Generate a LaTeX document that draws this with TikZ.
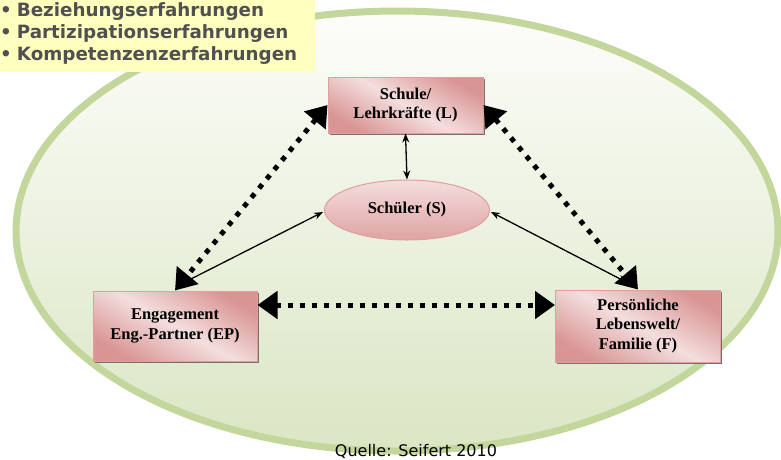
\documentclass[tikz,border=0pt]{standalone}
\usepackage{fontspec}
\setmainfont{Liberation Serif}
\newfontfamily\verd{DejaVu Sans}
\usetikzlibrary{arrows.meta,shapes.geometric,calc}
\definecolor{ringgreen}{RGB}{195,214,155}
\definecolor{fillgreenT}{RGB}{253,253,250}
\definecolor{fillgreenB}{RGB}{218,230,196}
\definecolor{pinkborder}{RGB}{224,158,157}
\definecolor{pinkdark}{RGB}{217,149,148}
\definecolor{pinklight}{RGB}{244,222,222}
\definecolor{noteyellow}{RGB}{255,255,192}
\definecolor{notetext}{RGB}{80,80,80}
\definecolor{shadowgray}{RGB}{120,110,110}
\tikzset{
  pinkbox/.style={draw=pinkborder, line width=1pt, rectangle,
    top color=pinkdark, bottom color=pinkdark, middle color=pinklight, shading angle=-30,
    font=\bfseries\fontsize{16.5}{19.5}\selectfont, align=center, inner sep=0pt},
  pinkoval/.style={draw=pinkborder, line width=1pt, ellipse,
    top color=pinklight, bottom color=pinkdark!80!pinklight,
    font=\bfseries\fontsize{16.5}{19.5}\selectfont, inner sep=0pt},
  dotarrow/.style={line width=5pt, dash pattern=on 5pt off 7pt,
    {Triangle[length=20pt,width=27pt]}-{Triangle[length=20pt,width=27pt]}},
  thinarrow/.style={line width=1.3pt, {Stealth[length=9pt,width=7pt]}-{Stealth[length=9pt,width=7pt]}},
  boxshadow/.style={fill=shadowgray, draw=none}
}
\begin{document}
\begin{tikzpicture}[x=1pt,y=-1pt]
\useasboundingbox (0,0) rectangle (781,459);
% big ellipse
\shade[top color=fillgreenT, bottom color=fillgreenB] (397,231) ellipse [x radius=381, y radius=220];
\draw[ringgreen, line width=7pt] (397,231) ellipse [x radius=381, y radius=220];
% note box
\fill[noteyellow] (0,0) rectangle (315,72);
\node[anchor=north west, inner sep=0pt, align=left, text=notetext,
      font=\verd\bfseries\fontsize{18.3}{22}\selectfont] (notes) at (0,2)
  {\textbullet\hspace{5pt}Beziehungserfahrungen\\ \textbullet\hspace{5pt}Partizipationserfahrungen\\ \textbullet\hspace{5pt}Kompetenzenzerfahrungen};
% shadows
\fill[boxshadow] (330,79) rectangle (485,135);
\fill[boxshadow] (95,293) rectangle (259,363);
\fill[boxshadow] (557,292) rectangle (722,364);
% boxes
\node[pinkbox, minimum width=155pt, minimum height=56pt] (L) at (405.5,105) {Schule/\\Lehrkräfte (L)};
\node[pinkbox, minimum width=164pt, minimum height=70pt] (EP) at (175,326) {Engagement\\Eng.-Partner (EP)};
\node[pinkbox, minimum width=165pt, minimum height=72pt] (F) at (638,326) {Persönliche\\Lebenswelt/\\Familie (F)};
\node[pinkoval, minimum width=165pt, minimum height=60pt] (S) at (407,210) {Schüler (S)};
% dotted arrows
\draw[dotarrow] (L.west) -- (EP.north);
\draw[dotarrow] (L.east) -- (F.north);
\draw[dotarrow] ([yshift=21pt]EP.east) -- ([yshift=21pt]F.west);
% thin arrows
\draw[thinarrow] (L.south) -- (S.north);
\draw[thinarrow] ([shift={(7pt,7pt)}]EP.north) -- ([shift={(-1pt,-2pt)}]S.west);
\draw[thinarrow] ([shift={(-11pt,7pt)}]F.north) -- ([shift={(1pt,-2pt)}]S.east);
% source
\node[font=\verd\fontsize{16}{18}\selectfont, inner sep=0pt, anchor=base] (src) at (416,456) {Quelle: Seifert 2010};
\end{tikzpicture}
\end{document}
